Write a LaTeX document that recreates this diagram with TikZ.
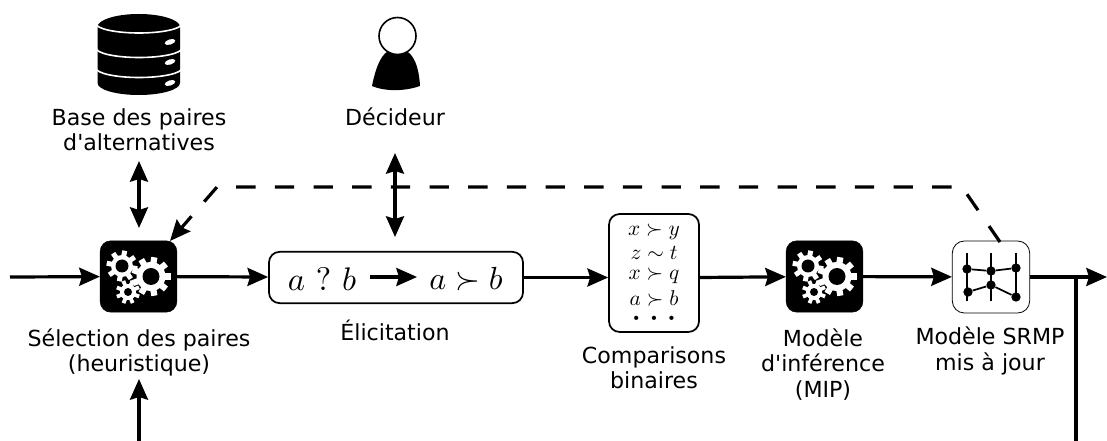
\documentclass[tikz,border=0pt]{standalone}
\usepackage{fontspec}
\usepackage{graphicx}
\newfontfamily\plainf{DejaVu Sans}
\usetikzlibrary{arrows.meta,calc}
\tikzset{
  wire/.style={line width=2.4pt,-{Stealth[length=15.5pt,width=13.5pt,inset=2pt]}},
  plainwire/.style={line width=2.4pt},
  both/.style={line width=2.4pt,{Stealth[length=15.5pt,width=13.5pt,inset=2pt]}-{Stealth[length=15.5pt,width=13.5pt,inset=2pt]}},
  dashwire/.style={wire,dash pattern=on 14.5pt off 14.5pt},
  label/.style={font=\plainf\fontsize{16.6pt}{19pt}\selectfont,align=center,inner sep=0pt,text=black},
  blackbox/.style={fill=black,draw=black,rounded corners=8pt,minimum width=57.5pt,minimum height=53.5pt,inner sep=0pt},
  whitebox/.style={draw=black,fill=white,rounded corners=8pt,line width=1.3pt,inner sep=0pt},
  thinbox/.style={draw=black,fill=white,rounded corners=9pt,line width=0.6pt,minimum width=58pt,minimum height=54pt,inner sep=0pt},
  mathbig/.style={inner sep=0pt},
  dotn/.style={circle,fill=black,inner sep=0pt,minimum size=7pt},
}
% gear: cx cy inner-radius tooth-outer-radius hole-radius teeth rotation
\newcommand{\gearicon}[7]{%
  \foreach \k in {1,...,#6}{%
    \draw[white,line width=#4*0.24pt] ($(#1,#2)+({#7+\k*360/#6}:#3*0.9)$) -- ($(#1,#2)+({#7+\k*360/#6}:#4)$);
  }
  \fill[white] (#1,#2) circle[radius=#3];
  \fill[black] (#1,#2) circle[radius=#5];
}
\newcommand{\gearset}[2]{%
  \gearicon{#1-16.5}{#2-10.5}{11}{15.5}{6.5}{8}{10}
  \gearicon{#1+12.5}{#2}{14.5}{19.5}{8.5}{9}{0}
  \gearicon{#1-10.5}{#2+15.5}{8}{12}{4}{8}{22}
}
\begin{document}
\begin{tikzpicture}[x=0.75pt,y=-0.75pt]
\useasboundingbox (0,0) rectangle (1107,441);

% database
\fill[black] (97.5,27) -- (97.5,83) arc[x radius=41.25,y radius=12,start angle=180,end angle=0] -- (180,27) arc[x radius=41.25,y radius=13,start angle=0,end angle=-180] -- cycle;
\foreach \yy in {23.5,48,68}{
  \draw[white,line width=1.2pt] (96,\yy) arc[x radius=43,y radius=9.5,start angle=180,end angle=0];
}
\foreach \yy in {42,62,83}{
  \fill[white,rotate around={18:(170,\yy)}] (170,\yy) ellipse[x radius=5.5,y radius=2.6];
}

% person
\fill[black] (372,86) .. controls (376,66) and (382,52) .. (391,50) -- (403,50) .. controls (414,52) and (419,68) .. (420,86) .. controls (406,91) and (386,92) .. (372,86) -- cycle;
\draw[black,fill=white,line width=1.2pt] (397.5,36) circle[radius=18.5];

% labels top
\node[label] (base) at (139,129.5) {Base des paires\\d'alternatives};
\node[label] (dec) at (395,117) {Décideur};

% main boxes
\node[blackbox] (sel) at (138.5,276.5) {};
\gearset{138.5}{276.5}
\node[whitebox,minimum width=190.5pt,minimum height=38.5pt] (eli) at (396,277.5) {};
\node[whitebox,minimum width=67.5pt,minimum height=88.5pt] (comp) at (654,273) {};
\node[blackbox] (inf) at (824.5,276.5) {};
\gearset{824.5}{276.5}
\node[thinbox] (srmp) at (991,277) {};

% elicitation content
\node[mathbig] (ab1) at (322,279) {\scalebox{2.45}{$a\ ?\ b$}};
\node[mathbig] (ab2) at (466,279) {\scalebox{2.4}{$a\succ b$}};
\coordinate (ia) at (370,277);
\coordinate (ib) at (417,277);
\draw[wire] (ia) -- (ib);

% comparisons content
\node[mathbig] (c1) at (654,232) {\scalebox{1.6}{$x\succ y$}};
\node[mathbig] (c2) at (654,253) {\scalebox{1.6}{$z\sim t$}};
\node[mathbig] (c3) at (654,276) {\scalebox{1.6}{$x\succ q$}};
\node[mathbig] (c4) at (654,299) {\scalebox{1.6}{$a\succ b$}};
\node[mathbig] (c5) at (654,318) {\scalebox{1.3}{$\scriptscriptstyle\bullet\hspace{6.5pt}\bullet\hspace{6.5pt}\bullet$}};

% srmp icon
\foreach \xx in {967,991,1016}{
  \draw[line width=2pt,black] (\xx,253) -- (\xx,301);
}
\node[dotn] (p1) at (967,269) {};
\node[dotn] (p2) at (991,271) {};
\node[dotn] (p3) at (1016,268) {};
\node[dotn] (p4) at (968,292) {};
\node[dotn] (p5) at (991,285) {};
\node[dotn] (p6) at (1016,297) {};
\draw[line width=1.3pt] (p1) -- (p2) -- (p3) (p4) -- (p5) -- (p6) (p2) -- (p5);

% bottom labels
\node[label] (lsel) at (139,352.5) {Sélection des paires\\(heuristique)};
\node[label] (leli) at (395,330) {Élicitation};
\node[label] (lcomp) at (654,367.5) {Comparisons\\binaires};
\node[label] (linf) at (823,364.5) {Modèle\\d'inférence\\(MIP)};
\node[label] (lsrmp) at (990,351) {Modèle SRMP\\mis à jour};

% connectors
\coordinate (in) at (10,277);
\coordinate (out) at (1107,277);
\coordinate (branch) at (1076,277);
\coordinate (branchend) at (1076,441);
\coordinate (bot) at (139,441);
\coordinate (botend) at (139,379);
\coordinate (d1) at (139,161);
\coordinate (d2) at (139,228);
\coordinate (e1) at (395,153);
\coordinate (e2) at (395,237);
\coordinate (f1) at (1000,242);
\coordinate (f2) at (962,187);
\coordinate (f3) at (217,187);
\coordinate (f4) at (170,241);

\draw[wire] (in) -- (sel);
\draw[wire] (sel) -- (eli);
\draw[wire] (eli) -- (comp.west |- eli);
\draw[wire] (comp.east |- eli) -- (inf);
\draw[wire] (inf) -- (srmp);
\draw[wire] (srmp) -- (out);
\draw[plainwire] (branch) -- (branchend);
\draw[wire] (bot) -- (botend);
\draw[both] (d1) -- (d2);
\draw[both] (e1) -- (e2);
\draw[dashwire] (f1) -- (f2) -- (f3) -- (f4);
\end{tikzpicture}
\end{document}
